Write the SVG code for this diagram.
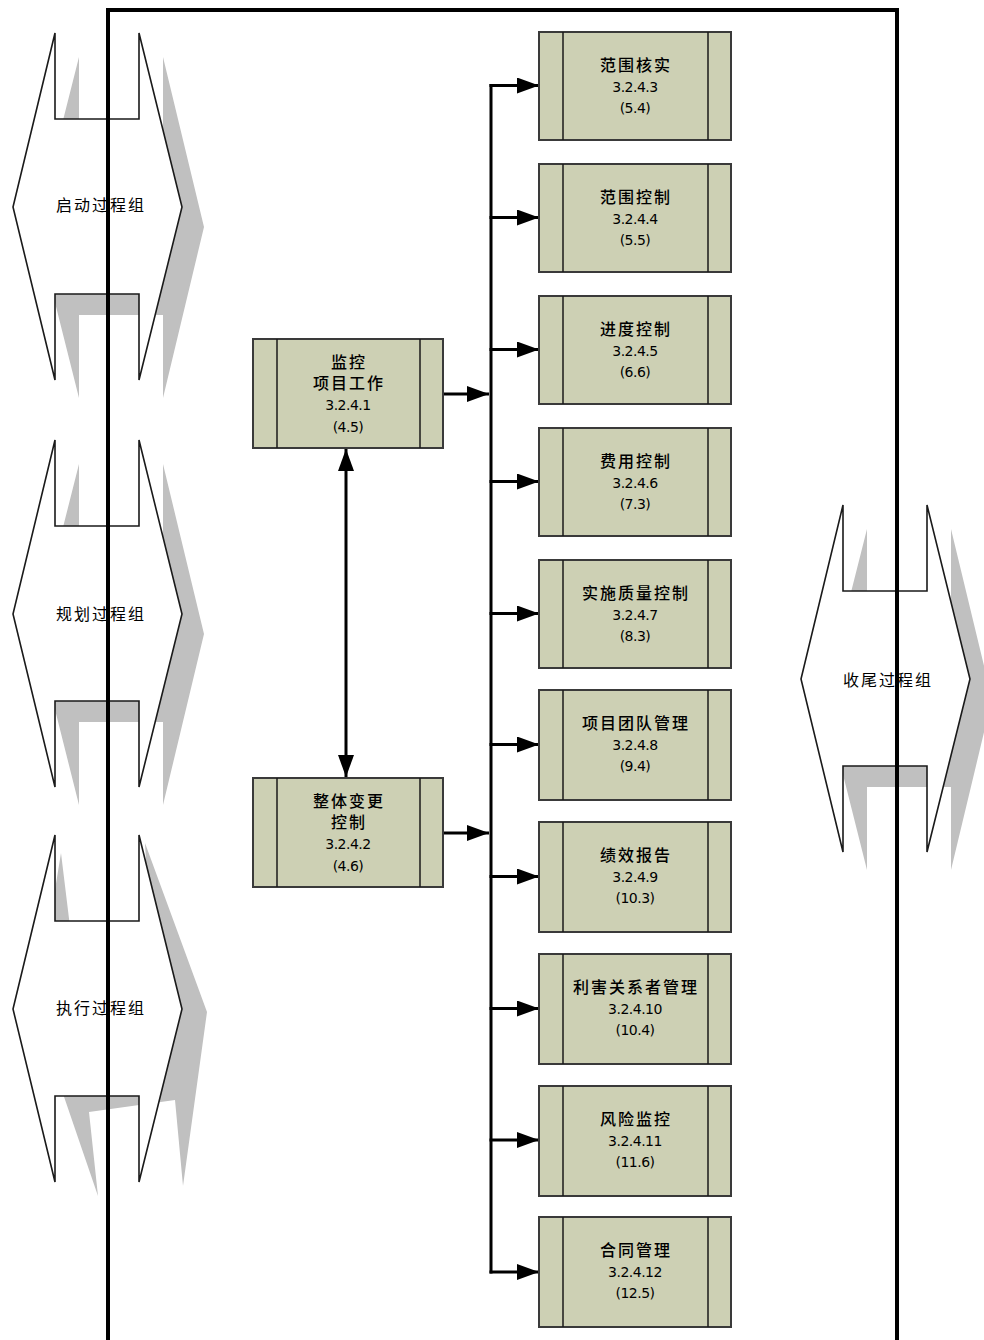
<svg xmlns="http://www.w3.org/2000/svg" width="984" height="1340" viewBox="0 0 984 1340">
<defs>
<style>
.shadow{fill:#c0c0c0;stroke:none}
.outline{fill:#ffffff;stroke:#1a1a1a;stroke-width:1.6;stroke-linejoin:miter}
.box{fill:#cdd0b4;stroke:#3a3a3a;stroke-width:2}
.div{stroke:#1a1a1a;stroke-width:1.5}
.cjk{font-family:"Noto Sans CJK SC","Noto Sans CJK JP",sans-serif;font-size:16px;letter-spacing:2px;fill:#000;text-anchor:middle}
.bx{font-weight:500}
.num{font-family:"DejaVu Sans",sans-serif;font-size:14px;fill:#000;text-anchor:middle;letter-spacing:-0.5px}
.conn{stroke:#000;stroke-width:3;fill:none}
.frame{stroke:#000;stroke-width:4;fill:none}
</style>
<marker id="ah" markerUnits="userSpaceOnUse" markerWidth="22" markerHeight="16" refX="22" refY="8" orient="auto-start-reverse" viewBox="0 0 22 16">
<path d="M0,0 L22,8 L0,16 Z" fill="#000"/>
</marker>
<path id="shp" d="M55,33 V119 H139 V33 L182,207 L139,380 V294 H55 V380 L13,207 Z"/>
<path id="shd" d="M79,57 V143 H163 V57 L204,227 L163,398 V315 H79 V398 L36,227 Z"/>
</defs>

<g id="initiating">
<use href="#shd" class="shadow"/>
<use href="#shp" class="outline"/>
<text class="cjk" x="101" y="211">启动过程组</text>
</g>

<g id="planning">
<use href="#shd" class="shadow" transform="translate(0,407)"/>
<use href="#shp" class="outline" transform="translate(0,407)"/>
<text class="cjk" x="101" y="620">规划过程组</text>
</g>

<g id="executing">
<path class="shadow" d="M61,853 L71,935 L150,932 L145,843 L207,1012 L183,1186 L175,1100 L89,1112 L98,1196 L35,1012 Z"/>
<use href="#shp" class="outline" transform="translate(0,802)"/>
<text class="cjk" x="101" y="1014">执行过程组</text>
</g>

<g id="closing">
<use href="#shd" class="shadow" transform="translate(788,472)"/>
<use href="#shp" class="outline" transform="translate(788,472)"/>
<text class="cjk" x="888" y="686">收尾过程组</text>
</g>

<g id="frame">
<path class="frame" d="M108,1350 V10 H897 V1350"/>
</g>

<g id="connectors">
<path class="conn" d="M491,84 V1273.5"/>
<line class="conn" x1="444" y1="394" x2="489" y2="394" marker-end="url(#ah)"/>
<line class="conn" x1="444" y1="833" x2="489" y2="833" marker-end="url(#ah)"/>
<line class="conn" x1="346" y1="449" x2="346" y2="777" marker-start="url(#ah)" marker-end="url(#ah)"/>
<line class="conn" x1="489.5" y1="85.5" x2="539" y2="85.5" marker-end="url(#ah)"/>
<line class="conn" x1="489.5" y1="217.5" x2="539" y2="217.5" marker-end="url(#ah)"/>
<line class="conn" x1="489.5" y1="349.5" x2="539" y2="349.5" marker-end="url(#ah)"/>
<line class="conn" x1="489.5" y1="481.5" x2="539" y2="481.5" marker-end="url(#ah)"/>
<line class="conn" x1="489.5" y1="613.5" x2="539" y2="613.5" marker-end="url(#ah)"/>
<line class="conn" x1="489.5" y1="744.5" x2="539" y2="744.5" marker-end="url(#ah)"/>
<line class="conn" x1="489.5" y1="876.5" x2="539" y2="876.5" marker-end="url(#ah)"/>
<line class="conn" x1="489.5" y1="1008.5" x2="539" y2="1008.5" marker-end="url(#ah)"/>
<line class="conn" x1="489.5" y1="1140" x2="539" y2="1140" marker-end="url(#ah)"/>
<line class="conn" x1="489.5" y1="1272" x2="539" y2="1272" marker-end="url(#ah)"/>
</g>

<g id="monitor-work">
<rect class="box" x="253" y="339" width="190" height="109"/>
<line class="div" x1="277" y1="339" x2="277" y2="448"/>
<line class="div" x1="420" y1="339" x2="420" y2="448"/>
<text class="cjk bx" x="349" y="367.5">监控</text>
<text class="cjk bx" x="349" y="389">项目工作</text>
<text class="num" x="348" y="409.5">3.2.4.1</text>
<text class="num" x="348" y="432">(4.5)</text>
</g>

<g id="integrated-change">
<rect class="box" x="253" y="778" width="190" height="109"/>
<line class="div" x1="277" y1="778" x2="277" y2="887"/>
<line class="div" x1="420" y1="778" x2="420" y2="887"/>
<text class="cjk bx" x="349" y="806.5">整体变更</text>
<text class="cjk bx" x="349" y="828">控制</text>
<text class="num" x="348" y="848.5">3.2.4.2</text>
<text class="num" x="348" y="871">(4.6)</text>
</g>

<g id="scope-verify">
<rect class="box" x="539" y="32" width="192" height="108"/>
<line class="div" x1="563" y1="32" x2="563" y2="140"/>
<line class="div" x1="708" y1="32" x2="708" y2="140"/>
<text class="cjk bx" x="636" y="70.5">范围核实</text>
<text class="num" x="635" y="91.5">3.2.4.3</text>
<text class="num" x="635" y="113">(5.4)</text>
</g>

<g id="scope-control">
<rect class="box" x="539" y="164" width="192" height="108"/>
<line class="div" x1="563" y1="164" x2="563" y2="272"/>
<line class="div" x1="708" y1="164" x2="708" y2="272"/>
<text class="cjk bx" x="636" y="202.5">范围控制</text>
<text class="num" x="635" y="223.5">3.2.4.4</text>
<text class="num" x="635" y="245">(5.5)</text>
</g>

<g id="schedule-control">
<rect class="box" x="539" y="296" width="192" height="108"/>
<line class="div" x1="563" y1="296" x2="563" y2="404"/>
<line class="div" x1="708" y1="296" x2="708" y2="404"/>
<text class="cjk bx" x="636" y="334.5">进度控制</text>
<text class="num" x="635" y="355.5">3.2.4.5</text>
<text class="num" x="635" y="377">(6.6)</text>
</g>

<g id="cost-control">
<rect class="box" x="539" y="428" width="192" height="108"/>
<line class="div" x1="563" y1="428" x2="563" y2="536"/>
<line class="div" x1="708" y1="428" x2="708" y2="536"/>
<text class="cjk bx" x="636" y="466.5">费用控制</text>
<text class="num" x="635" y="487.5">3.2.4.6</text>
<text class="num" x="635" y="509">(7.3)</text>
</g>

<g id="quality-control">
<rect class="box" x="539" y="560" width="192" height="108"/>
<line class="div" x1="563" y1="560" x2="563" y2="668"/>
<line class="div" x1="708" y1="560" x2="708" y2="668"/>
<text class="cjk bx" x="636" y="598.5">实施质量控制</text>
<text class="num" x="635" y="619.5">3.2.4.7</text>
<text class="num" x="635" y="641">(8.3)</text>
</g>

<g id="team-manage">
<rect class="box" x="539" y="690" width="192" height="110"/>
<line class="div" x1="563" y1="690" x2="563" y2="800"/>
<line class="div" x1="708" y1="690" x2="708" y2="800"/>
<text class="cjk bx" x="636" y="728.5">项目团队管理</text>
<text class="num" x="635" y="749.5">3.2.4.8</text>
<text class="num" x="635" y="771">(9.4)</text>
</g>

<g id="performance-report">
<rect class="box" x="539" y="822" width="192" height="110"/>
<line class="div" x1="563" y1="822" x2="563" y2="932"/>
<line class="div" x1="708" y1="822" x2="708" y2="932"/>
<text class="cjk bx" x="636" y="860.5">绩效报告</text>
<text class="num" x="635" y="881.5">3.2.4.9</text>
<text class="num" x="635" y="903">(10.3)</text>
</g>

<g id="stakeholder-manage">
<rect class="box" x="539" y="954" width="192" height="110"/>
<line class="div" x1="563" y1="954" x2="563" y2="1064"/>
<line class="div" x1="708" y1="954" x2="708" y2="1064"/>
<text class="cjk bx" x="636" y="992.5">利害关系者管理</text>
<text class="num" x="635" y="1013.5">3.2.4.10</text>
<text class="num" x="635" y="1035">(10.4)</text>
</g>

<g id="risk-monitor">
<rect class="box" x="539" y="1086" width="192" height="110"/>
<line class="div" x1="563" y1="1086" x2="563" y2="1196"/>
<line class="div" x1="708" y1="1086" x2="708" y2="1196"/>
<text class="cjk bx" x="636" y="1124.5">风险监控</text>
<text class="num" x="635" y="1145.5">3.2.4.11</text>
<text class="num" x="635" y="1167">(11.6)</text>
</g>

<g id="contract-manage">
<rect class="box" x="539" y="1217" width="192" height="110"/>
<line class="div" x1="563" y1="1217" x2="563" y2="1327"/>
<line class="div" x1="708" y1="1217" x2="708" y2="1327"/>
<text class="cjk bx" x="636" y="1255.5">合同管理</text>
<text class="num" x="635" y="1276.5">3.2.4.12</text>
<text class="num" x="635" y="1298">(12.5)</text>
</g>
</svg>
